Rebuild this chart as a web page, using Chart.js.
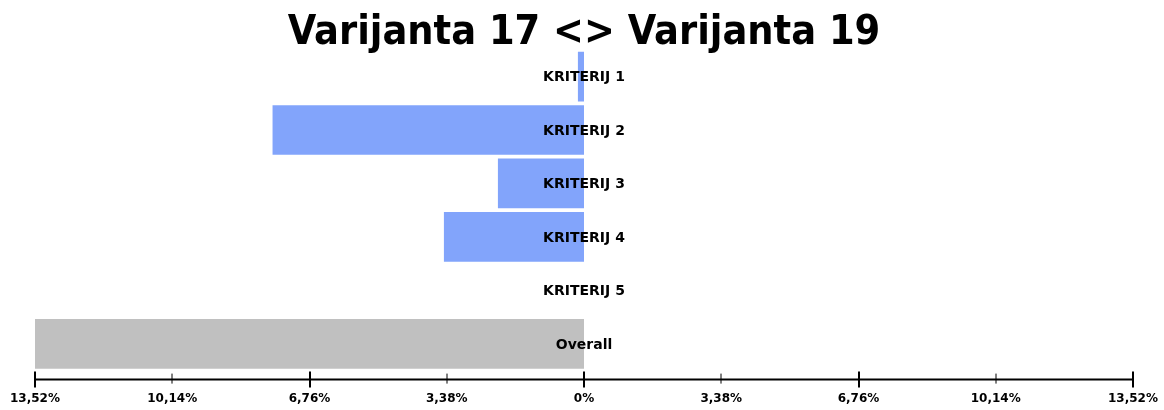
<!DOCTYPE html>
<html>
<head>
<meta charset="utf-8">
<script src="https://cdn.jsdelivr.net/npm/chart.js@4"></script>
<style>
  html,body{margin:0;padding:0;background:#fff;}
  #wrap{width:1164px;height:410px;}
</style>
</head>
<body>
<div id="wrap"><canvas id="c"></canvas></div>
<script>
// podaci očitani sa slike (negativno = lijevo od nule)
const categories = ["KRITERIJ 1","KRITERIJ 2","KRITERIJ 3","KRITERIJ 4","KRITERIJ 5","Overall"];
const values     = [-0.15, -7.67, -2.12, -3.45, 0, -13.52];
const barColors  = ["#82a4fb","#82a4fb","#82a4fb","#82a4fb","#82a4fb","#c0c0c0"];
const tickValues = [-13.52,-10.14,-6.76,-3.38,0,3.38,6.76,10.14,13.52];
const tickLabels = ["13,52%","10,14%","6,76%","3,38%","0%","3,38%","6,76%","10,14%","13,52%"];
const majorTicks = [-13.52,-6.76,0,6.76,13.52];

// natpisi kategorija preko stupaca, centrirani na nuli
const rowLabels = {
  id:"rowLabels",
  afterDatasetsDraw(chart){
    const {ctx, scales:{x,y}} = chart;
    ctx.save();
    ctx.font = "bold 14px 'DejaVu Sans'";
    ctx.fillStyle = "#000";
    ctx.textAlign = "center"; ctx.textBaseline = "middle";
    categories.forEach((c,i)=>ctx.fillText(c, x.getPixelForValue(0), y.getPixelForValue(i)+1));
    ctx.restore();
  }
};

// os s crticama iznad i ispod linije
const axisLine = {
  id:"axisLine",
  afterDraw(chart){
    const {ctx, chartArea:a, scales:{x}} = chart;
    const yy = a.bottom + 9;
    ctx.save();
    ctx.strokeStyle = "#000"; ctx.lineWidth = 2;
    ctx.beginPath(); ctx.moveTo(x.getPixelForValue(-13.52), yy); ctx.lineTo(x.getPixelForValue(13.52), yy); ctx.stroke();
    tickValues.forEach(v=>{
      const px = Math.round(x.getPixelForValue(v));
      const major = majorTicks.includes(v);
      ctx.lineWidth = major ? 2 : 1;
      ctx.beginPath();
      ctx.moveTo(px, yy - (major ? 8 : 6));
      ctx.lineTo(px, yy + (major ? 8 : 4));
      ctx.stroke();
    });
    ctx.restore();
  }
};

new Chart(document.getElementById("c"), {
  type:"bar",
  data:{
    labels:categories,
    datasets:[{data:values, backgroundColor:barColors, borderWidth:0, barPercentage:0.93, categoryPercentage:1}]
  },
  options:{
    indexAxis:"y",
    responsive:true, maintainAspectRatio:false, animation:false,
    layout:{padding:{left:35, right:31, top:17, bottom:1}},
    plugins:{
      legend:{display:false}, tooltip:{enabled:false},
      title:{display:true, text:"Varijanta 17 <> Varijanta 19", color:"#000",
        font:{family:"'DejaVu Sans Condensed','DejaVu Sans'", size:41, weight:"bold", lineHeight:0.8}, padding:{top:0,bottom:0}}
    },
    scales:{
      x:{
        min:-13.52, max:13.52,
        afterBuildTicks:s=>{ s.ticks = tickValues.map(v=>({value:v})); },
        afterFit:s=>{ s.paddingLeft = 0; s.paddingRight = 0; },
        ticks:{autoSkip:false, maxRotation:0, padding:3, color:"#000",
          font:{family:"'DejaVu Sans'", size:12, weight:"bold"},
          callback:(v,i)=>tickLabels[i]},
        grid:{display:false, drawTicks:true, tickLength:18}, border:{display:false}
      },
      y:{display:false}
    }
  },
  plugins:[rowLabels, axisLine]
});
</script>
</body>
</html>
